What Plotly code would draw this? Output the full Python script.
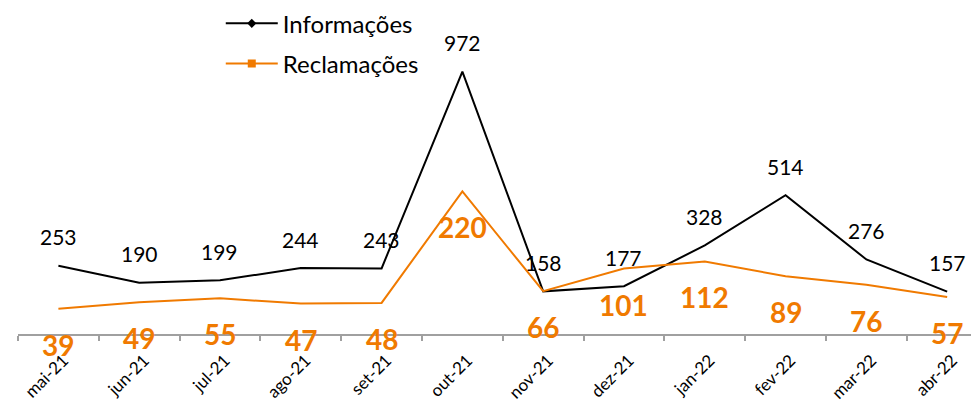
import plotly.graph_objects as go

categories = ["mai-21", "jun-21", "jul-21", "ago-21", "set-21", "out-21",
              "nov-21", "dez-21", "jan-22", "fev-22", "mar-22", "abr-22"]
informacoes = [253, 190, 199, 244, 243, 972, 158, 177, 328, 514, 276, 157]
reclamacoes = [39, 49, 55, 47, 48, 220, 66, 101, 112, 89, 76, 57]

BLACK = "#000000"
ORANGE = "#F07A00"
FONT = "Lato"

fig = go.Figure()

# real lines (no markers)
fig.add_trace(go.Scatter(x=categories, y=informacoes, mode="lines",
                         line=dict(color=BLACK, width=2), showlegend=False,
                         yaxis="y", hoverinfo="skip"))
fig.add_trace(go.Scatter(x=categories, y=reclamacoes, mode="lines",
                         line=dict(color=ORANGE, width=2), showlegend=False,
                         yaxis="y2", hoverinfo="skip"))

# legend entries
fig.add_trace(go.Scatter(x=[None], y=[None], mode="lines+markers", name="Informações",
                         line=dict(color=BLACK, width=2),
                         marker=dict(symbol="diamond", size=7, color=BLACK),
                         legendgroup="a"))
fig.add_trace(go.Scatter(x=[None], y=[None], mode="lines+markers", name="Reclamações",
                         line=dict(color=ORANGE, width=2),
                         marker=dict(symbol="square", size=8, color=ORANGE),
                         legendgroup="b", yaxis="y2"))

annotations = []
for c, v in zip(categories, informacoes):
    annotations.append(dict(x=c, y=v, xref="x", yref="y", text=str(v), showarrow=False,
                            yshift=29, yanchor="middle",
                            font=dict(family=FONT, size=21, color=BLACK)))
for c, v in zip(categories, reclamacoes):
    annotations.append(dict(x=c, y=v, xref="x", yref="y2", text="<b>%d</b>" % v, showarrow=False,
                            yshift=-36, yanchor="middle",
                            font=dict(family=FONT, size=28, color=ORANGE)))

fig.update_layout(
    width=979, height=402,
    margin=dict(l=10, r=8, t=2, b=76, autoexpand=False),
    paper_bgcolor="white", plot_bgcolor="white",
    font=dict(family=FONT, color=BLACK),
    xaxis=dict(type="category", range=[-0.5, 11.394], showgrid=False, zeroline=False,
               showline=True, linecolor="#A0A0A0", linewidth=1.5, automargin=False,
               ticks="outside", tickson="boundaries", ticklen=5, tickcolor="#A0A0A0", tickwidth=1.5,
               tickangle=-45, ticklabelstandoff=8, ticklabelshift=5,
               tickfont=dict(family=FONT, size=17, color=BLACK)),
    yaxis=dict(range=[0, 1200], visible=False, fixedrange=True),
    yaxis2=dict(range=[0, 500], visible=False, overlaying="y", side="right"),
    showlegend=True,
    legend=dict(x=0.211, y=1.027, xanchor="left", yanchor="top",
                font=dict(family=FONT, size=24, color=BLACK), itemwidth=52,
                bgcolor="rgba(0,0,0,0)", traceorder="grouped", tracegroupgap=6),
    annotations=annotations,
)

fig.write_html("out.html")
